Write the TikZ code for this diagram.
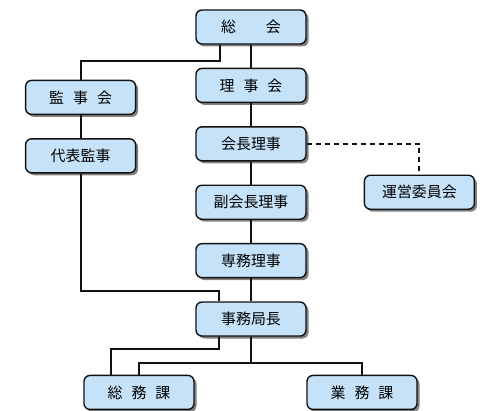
\documentclass[tikz,border=0pt]{standalone}
\usepackage{fontspec}
\newfontfamily\jpfont{Noto Sans CJK JP}
\usepackage{xcolor}
\definecolor{cBox}{HTML}{C6E2F8}
\definecolor{cLine}{HTML}{111111}
\usepackage{tikz}
\usetikzlibrary{positioning,shadows}
\tikzset{
  org-box/.style={draw=cLine,thick,rounded corners=1.2mm,fill=cBox,
    minimum width=22mm,minimum height=6.8mm,inner sep=0pt,align=center,
    font=\jpfont\fontsize{8.5}{10}\selectfont,
    drop shadow={shadow xshift=0.5mm,shadow yshift=-0.5mm,fill=black!70,opacity=0.7}},
  link/.style={draw=cLine,line width=1.2pt},
  link-dashed/.style={link,dash pattern=on 1mm off 0.8mm},
}
\begin{document}
\begin{tikzpicture}[node distance=4.6mm]
  \useasboundingbox (0,0) rectangle (10,-8.2);
  % 本部
  \node[org-box] (sokai) at (5.02,-0.54) {総\hspace{2em}会};
  \node[org-box,below=of sokai] (rijikai) {理\hspace{.6em}事\hspace{.6em}会};
  \node[org-box,below=of rijikai] (kaicho) {会長理事};
  \node[org-box,below=of kaicho] (fuku) {副会長理事};
  \node[org-box,below=of fuku] (senmu) {専務理事};
  \node[org-box,below=of senmu] (jimu) {事務局長};
  % 監事
  \node[org-box,below left=7mm and 11.8mm of sokai] (kanjikai) {監\hspace{.6em}事\hspace{.6em}会};
  \node[org-box,below=of kanjikai] (daihyo) {代表監事};
  \node[org-box,below right=2.6mm and 11.4mm of kaicho] (unei) {運営委員会};
  % 課
  \node[org-box,below=7.6mm of jimu,xshift=-22.4mm] (somu) {総\hspace{.6em}務\hspace{.6em}課};
  \node[org-box,below=7.6mm of jimu,xshift=22.2mm] (gyomu) {業\hspace{.6em}務\hspace{.6em}課};
  \draw[link] (sokai) -- (rijikai);
  \draw[link] ([xshift=-6.2mm]sokai.south) -- ++(0,-3.2mm) -| (kanjikai.north);
  \draw[link] (kanjikai) -- (daihyo);
  \draw[link] (rijikai) -- (kaicho);
  \draw[link] (kaicho) -- (fuku);
  \draw[link] (fuku) -- (senmu);
  \draw[link] (senmu) -- (jimu);
  \coordinate (k1) at ([xshift=-6.4mm,yshift=2mm]jimu.north);
  \draw[link] (daihyo.south) |- (k1) -- ([xshift=-6.4mm]jimu.north);
  \draw[link-dashed] (kaicho.east) -| (unei.north);
  \draw[link] ([xshift=-6.4mm]jimu.south) -- ++(0,-2.4mm) -| ([xshift=-5.6mm]somu.north);
  \draw[link] (jimu.south) -- ++(0,-5.2mm) coordinate (b1) -| (somu.north);
  \draw[link] (b1) -| (gyomu.north);
\end{tikzpicture}
\end{document}
